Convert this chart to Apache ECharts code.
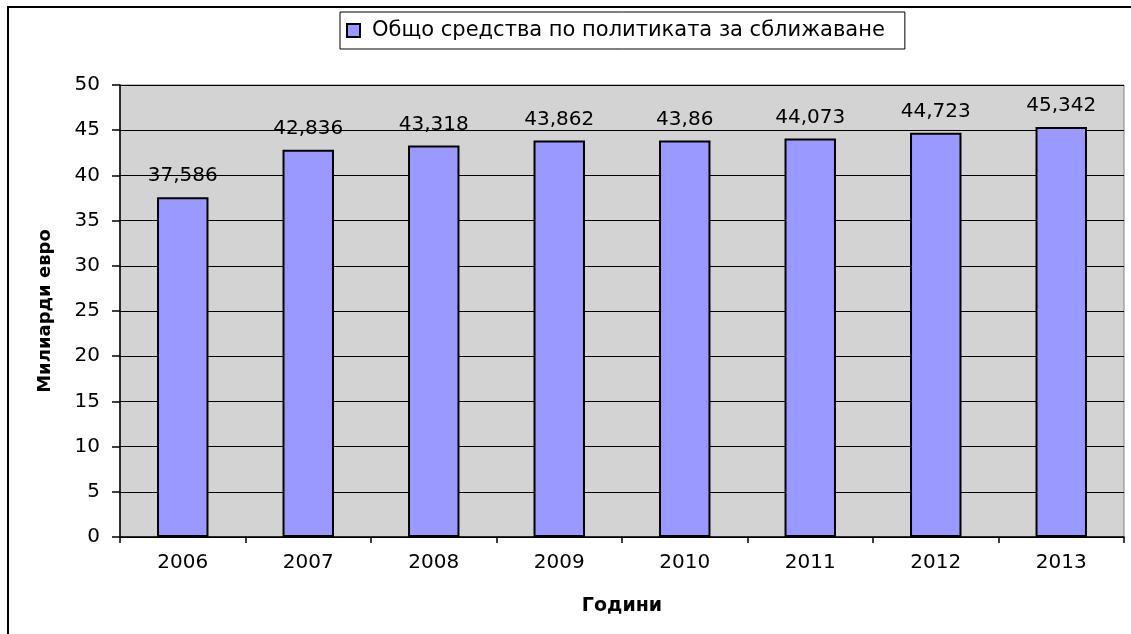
<!DOCTYPE html>
<html><head><meta charset="utf-8">
<script src="https://cdn.jsdelivr.net/npm/echarts@6/dist/echarts.min.js"></script>
<style>html,body{margin:0;padding:0;background:#fff}#c{width:1131px;height:634px}</style>
</head><body><div id="c"></div>
<script>
const categories = ['2006','2007','2008','2009','2010','2011','2012','2013'];
const values = [37.586, 42.836, 43.318, 43.862, 43.86, 44.073, 44.723, 45.342];
const labels = ['37,586','42,836','43,318','43,862','43,86','44,073','44,723','45,342'];
const seriesName = 'Общо средства по политиката за сближаване';
const yTicks = [0,5,10,15,20,25,30,35,40,45,50];

const FONT = 'DejaVu Sans';
const chart = echarts.init(document.getElementById('c'));
chart.setOption({
  animation: false,
  backgroundColor: '#fff',
  graphic: [{type:'rect', shape:{x:8,y:7,width:1300,height:1000}, style:{fill:'none', stroke:'#000', lineWidth:2}, z:100}],
  legend: {
    top: 12, left: 340,
    data: [seriesName],
    borderColor: '#000', borderWidth: 1, padding: [8, 20, 8, 6],
    itemWidth: 13, itemHeight: 13, itemGap: 6,
    icon: 'rect',
    textStyle: {fontFamily: FONT, fontSize: 21, color: '#000', padding: [0,0,0,7]}
  },
  grid: {left:120, right:7, top:85, bottom:97, show:true, backgroundColor:'#D3D3D3', borderColor:'#808080', borderWidth:1},
  xAxis: {
    type:'category', data: categories,
    name:'Години', nameLocation:'middle', nameGap: 60,
    nameTextStyle:{fontFamily:FONT, fontSize:19, fontWeight:'bold', color:'#000'},
    axisLine:{lineStyle:{color:'#000', width:1.5}},
    axisTick:{show:true, length:6, lineStyle:{color:'#000', width:1.5}},
    axisLabel:{fontFamily:FONT, fontSize:20, color:'#000', margin:16}
  },
  yAxis: {
    type:'value', min:0, max:50, interval:5,
    name:'Милиарди евро', nameLocation:'middle', nameGap: 66,
    nameTextStyle:{fontFamily:FONT, fontSize:18, fontWeight:'bold', color:'#000'},
    axisLine:{show:true, lineStyle:{color:'#000', width:1.5}},
    axisTick:{show:true, length:8, lineStyle:{color:'#000', width:1.5}},
    axisLabel:{fontFamily:FONT, fontSize:20, color:'#000', margin:20, formatter: v => yTicks.includes(v) ? String(v) : ''},
    splitLine:{show:true, lineStyle:{color:'#000', width:1}}
  },
  series: [{
    name: seriesName, type:'bar', data: values, barWidth:'41%',
    itemStyle:{color:'#9999FF', borderColor:'#000', borderWidth:2},
    label:{show:true, position:'top', distance:11, fontFamily:FONT, fontSize:20, color:'#000',
      formatter: p => labels[p.dataIndex]}
  }]
});
</script></body></html>
